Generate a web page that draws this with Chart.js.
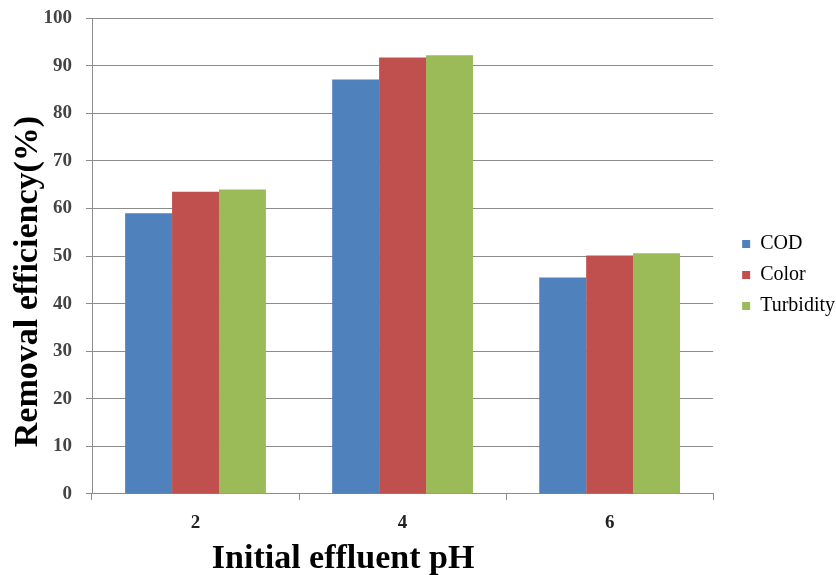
<!DOCTYPE html>
<html>
<head>
<meta charset="utf-8">
<script src="https://cdn.jsdelivr.net/npm/chart.js@4.4.0/dist/chart.umd.min.js"></script>
<style>
  html, body { margin: 0; padding: 0; background: #fff; }
  #wrap { width: 836px; height: 575px; position: relative; overflow: hidden; }
</style>
</head>
<body>
<div id="wrap"><canvas id="c" width="836" height="575"></canvas></div>
<script>
const categories = ["2", "4", "6"];
const codValues = [59.0, 87.1, 45.5];
const colorValues = [63.5, 91.7, 50.1];
const turbidityValues = [64.0, 92.2, 50.6];
const yTicks = [0, 10, 20, 30, 40, 50, 60, 70, 80, 90, 100];

const serif = "'Liberation Serif', 'DejaVu Serif', serif";
const nb = (n) => '\u00A0'.repeat(n);

new Chart(document.getElementById('c'), {
  type: 'bar',
  data: {
    labels: categories,
    datasets: [
      { label: 'COD', data: codValues, backgroundColor: '#4F81BD' },
      { label: 'Color', data: colorValues, backgroundColor: '#C0504D' },
      { label: 'Turbidity', data: turbidityValues, backgroundColor: '#9BBB59' }
    ]
  },
  options: {
    responsive: false,
    animation: false,
    layout: { padding: { top: 5, right: -9, bottom: 0, left: 0 } },
    datasets: { bar: { categoryPercentage: 0.68, barPercentage: 1.0 } },
    plugins: {
      legend: {
        position: 'right',
        align: 'start',
        title: { display: true, text: ' ', font: { size: 10 }, padding: { top: 206, bottom: 0 } },
        labels: {
          boxWidth: 8, boxHeight: 8, padding: 11,
          color: '#000',
          font: { family: serif, size: 20 }
        }
      },
      tooltip: { enabled: false }
    },
    scales: {
      x: {
        offset: true,
        grid: { display: true, drawOnChartArea: false, offset: true, color: '#8c8c8c', tickLength: 6, lineWidth: 1 },
        border: { color: '#8c8c8c', width: 1 },
        ticks: { color: '#222', font: { family: serif, size: 19, weight: 'bold' }, padding: 11.6 },
        title: { display: true, text: 'Initial effluent pH' + nb(14), color: '#000', font: { family: serif, size: 34, weight: 'bold' }, padding: { top: -6.8, bottom: -5 } }
      },
      y: {
        min: 0, max: 100,
        afterBuildTicks: (axis) => { axis.ticks = yTicks.map(v => ({ value: v })); },
        grid: { color: '#8c8c8c', tickLength: 6, lineWidth: 1 },
        border: { color: '#8c8c8c', width: 1 },
        ticks: { color: '#444', font: { family: serif, size: 19, weight: 'bold', lineHeight: 0.43 }, padding: 14 },
        title: { display: true, text: 'Removal efficiency(%)' + nb(6), color: '#000', font: { family: serif, size: 34, weight: 'bold' }, padding: { top: 8, bottom: -19.3 } }
      },
      rightGap: {
        type: 'linear',
        position: 'right',
        display: true,
        grid: { display: false },
        border: { display: false },
        ticks: { display: false },
        afterFit: (axis) => { axis.width = 18; }
      }
    }
  }
});
</script>
</body>
</html>
